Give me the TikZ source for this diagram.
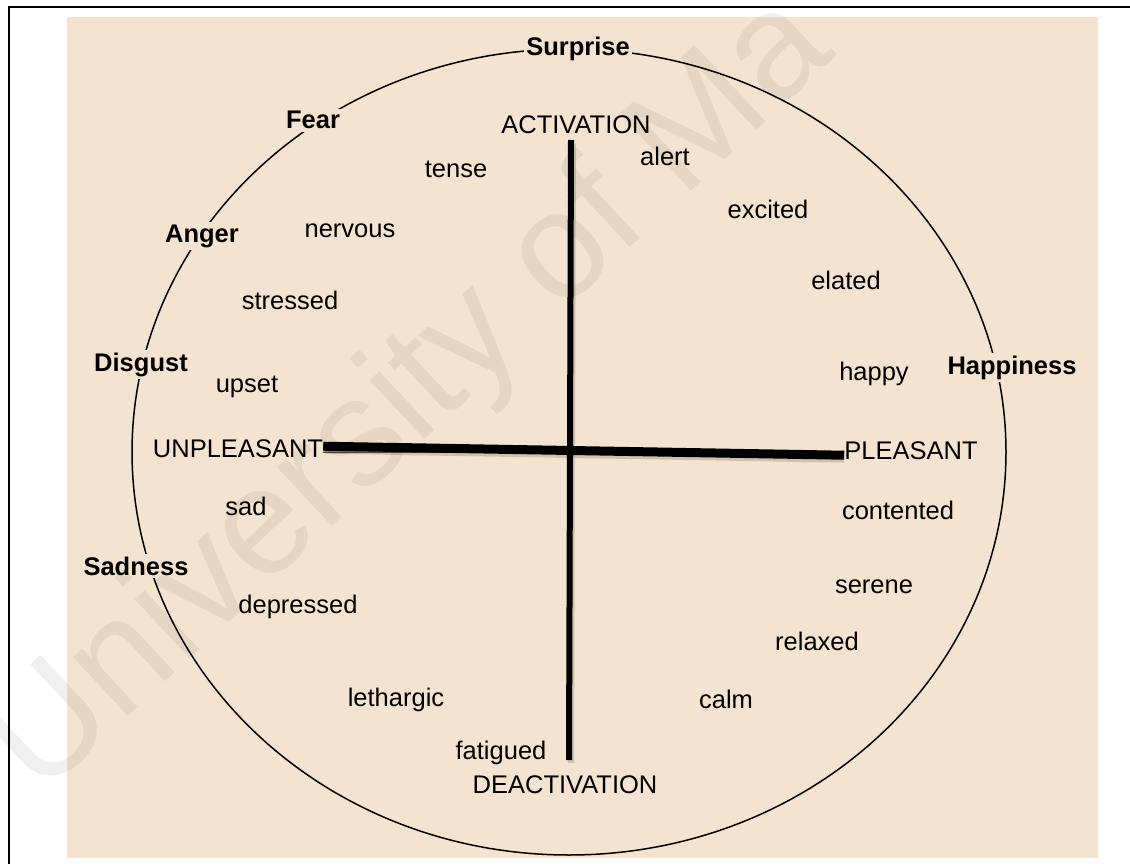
\documentclass[tikz,border=0pt]{standalone}
\usepackage{fontspec}
\setmainfont{Liberation Sans}
\usepackage{xcolor}
\usetikzlibrary{calc}
\definecolor{parchment}{RGB}{244,227,208}

\begin{document}
\begin{tikzpicture}[
    x=1pt, y=-1pt,
    font=\fontsize{25.5}{30}\selectfont,
    word/.style={anchor=base, inner sep=0pt},
    emotion/.style={anchor=base, inner sep=2.5pt, fill=parchment, font=\fontsize{25.5}{30}\selectfont\bfseries},
    rim/.style={line width=1.5pt},
    axis/.style={line width=#1, line cap=butt},
    axisshade/.style={line width=#1, draw=black, opacity=0.15},
    watermark/.style={rotate=43, text opacity=0.06, font=\fontsize{152}{155}\selectfont}
  ]
    \useasboundingbox (0,0) rectangle (1130,864);
    \clip (0,0) rectangle (1130,864);
    \draw[line width=2pt] (9,7) rectangle (1145,880);
    \fill[parchment] (67,17) rectangle (1098,858);

    % circumplex rim
    \draw[rim] (569,452) ellipse [x radius=437, y radius=403];

    % axis labels
    \node[word] (act) at (576,134) {ACTIVATION};
    \node[word] (deact) at (565,793) {DEACTIVATION};
    \node[word] (unpl) at (238,457) {UNPLEASANT};
    \node[word] (pleas) at (911,459) {PLEASANT};
    \coordinate (vtop) at (571,140);
    \coordinate (vbot) at (569,760);
    \coordinate (centre) at (570,452);

    % axes with a soft shadow
    \draw[line width=1pt] ([yshift=-4pt]unpl.east) -- (centre);
    \draw[axisshade=6pt] ([shift={(2,3)}]vtop) -- ([shift={(2,3)}]vbot);
    \draw[axisshade=9pt] ([shift={(2,3)}]unpl.east) ++(0,-2) -- ([shift={(0,8)}]pleas.west);
    \draw[axis=6pt] (vtop) -- (vbot);
    \draw[axis=9pt] ([yshift=2pt]unpl.east) -- ([yshift=-5pt]pleas.west);

    % affect words
    \foreach \w/\x/\y in {tense/456/177, alert/665/165, excited/768/218, elated/846/289,
        nervous/350/237, stressed/290/309, upset/247/392, happy/874/380,
        sad/246/515, contented/898/519, depressed/298/613, serene/874/593,
        relaxed/817/650, lethargic/396/706, calm/726/708, fatigued/501/759} {
      \node[word] (\w) at (\x,\y) {\w};
    }

    % basic emotions on the rim
    \foreach \e/\x/\y in {Surprise/578/56, Fear/313/129, Anger/202/242, Disgust/141/371,
        Sadness/136/575, Happiness/1012/374} {
      \node[emotion] (\e) at (\x,\y) {\e};
    }

    \node[watermark] (wm) at (412,398) {University of Ma};
  \end{tikzpicture}
\end{document}
